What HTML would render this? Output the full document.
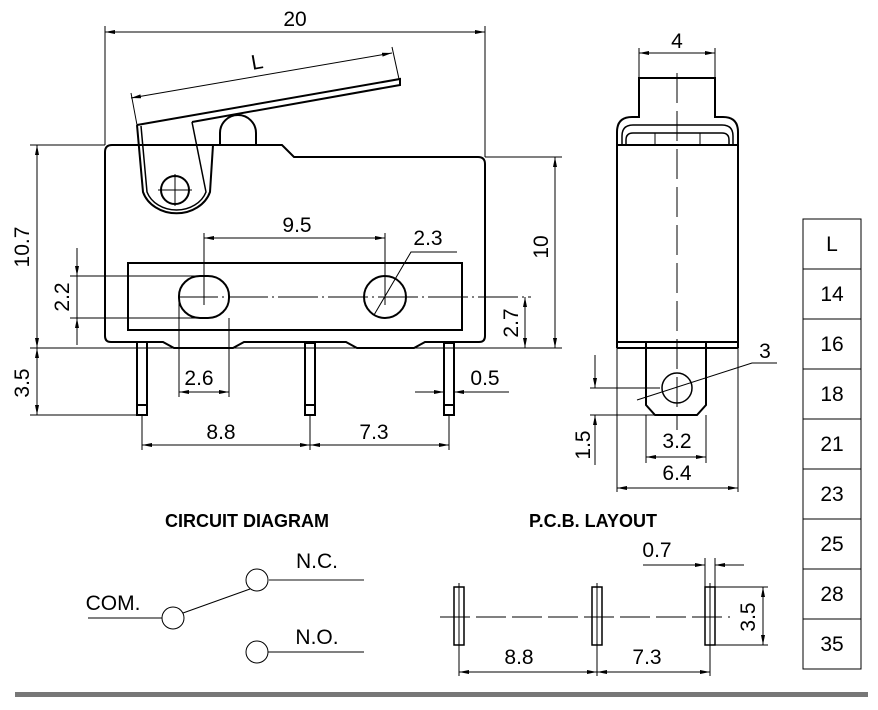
<!DOCTYPE html>
<html><head><meta charset="utf-8"><style>
html,body{margin:0;padding:0;background:#fff;}
svg{display:block;}
text{font-family:"Liberation Sans Narrow","Liberation Sans",sans-serif;font-size:21px;fill:#000;}
.t{font-weight:bold;font-size:18px;}
</style></head><body>
<svg width="878" height="710" viewBox="0 0 878 710" xmlns="http://www.w3.org/2000/svg">
<defs>
<marker id="a" viewBox="0 0 10 4" refX="10" refY="2" markerWidth="10" markerHeight="4" markerUnits="userSpaceOnUse" orient="auto-start-reverse"><path d="M0,0 L10,2 L0,4z" fill="#000"/></marker>
</defs>
<g fill="none" stroke="#000" stroke-width="1">
<!-- 20 dim -->
<line x1="105" y1="26" x2="105" y2="145"/><line x1="485" y1="26" x2="485" y2="157"/>
<line x1="105" y1="32" x2="485" y2="32" marker-start="url(#a)" marker-end="url(#a)"/>
<!-- body -->
<path stroke-width="2" d="M105,152 Q105,145 112,145 L282,145 L294,157 L478,157 Q485,157 485,164 L485,336 Q485,342 479,342 L425,342 L414,348 L357,348 L346,342 L244,342 L233,348 L174,348 L163,342 L111,342 Q105,342 105,336 Z"/>
<!-- lever -->
<path stroke-width="2" d="M137,125 L400,79 L400,85 L192,122"/>
<path stroke-width="2" d="M137,125 L143,192 A35,30 0 0 0 210,192 L213,145"/>
<path stroke-width="1.5" d="M141,126 L147,192 A31,26 0 0 0 206,192 L192,122"/>
<!-- roller -->
<path stroke-width="2" d="M220,145 L220,133 A18,18 0 0 1 256,133 L256,145"/>
<circle cx="175" cy="190" r="14" stroke-width="2"/>
<line x1="158" y1="190" x2="192" y2="190"/><line x1="175" y1="174" x2="175" y2="206"/>
<!-- L dim -->
<line x1="131" y1="93" x2="137" y2="125"/><line x1="392" y1="47" x2="399" y2="79"/>
<line x1="131" y1="98" x2="392" y2="53" marker-start="url(#a)" marker-end="url(#a)"/>
<!-- inner rect -->
<rect x="128" y="263" width="334" height="67" stroke-width="2"/>
<rect x="179" y="276" width="50" height="42" rx="21" ry="20" stroke-width="2"/>
<circle cx="385" cy="297" r="21" stroke-width="2"/>
<line x1="178" y1="297" x2="531" y2="297" stroke-dasharray="40,4,2,4"/>
<line x1="70" y1="276" x2="204" y2="276"/><line x1="70" y1="318" x2="204" y2="318"/>
<line x1="77" y1="248" x2="77" y2="276" marker-end="url(#a)"/><line x1="77" y1="345" x2="77" y2="318" marker-end="url(#a)"/>
<line x1="77" y1="276" x2="77" y2="318"/>
<!-- 9.5 -->
<line x1="204" y1="233" x2="204" y2="305"/><line x1="385" y1="233" x2="385" y2="305"/>
<line x1="204" y1="238" x2="385" y2="238" marker-start="url(#a)" marker-end="url(#a)"/>
<!-- 2.3 leader -->
<polyline points="374,315 411,252 457,252"/>
<!-- 10 / 2.7 / 10.7 / 3.5 -->
<line x1="485" y1="157" x2="562" y2="157"/><line x1="30" y1="348" x2="562" y2="348"/>
<line x1="555" y1="157" x2="555" y2="348" marker-start="url(#a)" marker-end="url(#a)"/>
<line x1="525" y1="297" x2="525" y2="348" marker-start="url(#a)" marker-end="url(#a)"/>
<line x1="30" y1="145" x2="105" y2="145"/>
<line x1="37" y1="145" x2="37" y2="348" marker-start="url(#a)" marker-end="url(#a)"/>
<line x1="30" y1="415" x2="142" y2="415"/>
<line x1="37" y1="348" x2="37" y2="415" marker-start="url(#a)" marker-end="url(#a)"/>
<!-- pins -->
<g stroke-width="2">
<rect x="137" y="342" width="10" height="73"/><line x1="137" y1="405" x2="147" y2="405"/>
<rect x="305" y="343" width="10" height="72"/><line x1="305" y1="405" x2="315" y2="405"/>
<rect x="444" y="343" width="10" height="72"/><line x1="444" y1="405" x2="454" y2="405"/>
</g>
<!-- 2.6 -->
<line x1="179" y1="297" x2="179" y2="397"/><line x1="229" y1="318" x2="229" y2="397"/>
<line x1="179" y1="392" x2="229" y2="392" marker-start="url(#a)" marker-end="url(#a)"/>
<!-- 0.5 -->
<line x1="415" y1="392" x2="444" y2="392" marker-end="url(#a)"/><line x1="509" y1="392" x2="454" y2="392" marker-end="url(#a)"/>
<!-- 8.8 7.3 -->
<line x1="142" y1="415" x2="142" y2="450"/><line x1="310" y1="415" x2="310" y2="450"/><line x1="449" y1="415" x2="449" y2="450"/>
<line x1="142" y1="445" x2="310" y2="445" marker-start="url(#a)" marker-end="url(#a)"/>
<line x1="310" y1="445" x2="449" y2="445" marker-start="url(#a)" marker-end="url(#a)"/>

<!-- side view -->
<line x1="639" y1="48" x2="639" y2="78"/><line x1="715" y1="48" x2="715" y2="78"/>
<line x1="639" y1="53" x2="715" y2="53" marker-start="url(#a)" marker-end="url(#a)"/>
<path stroke-width="2" d="M617,342 L617,132 Q617,117 632,117 L639,117 L639,78 L715,78 L715,117 L723,117 Q738,117 738,132 L738,342 Z"/>
<path stroke-width="1.5" d="M622,145 L622,136 Q622,125 633,125 L722,125 Q733,125 733,136 L733,145"/>
<path stroke-width="1.5" d="M626,145 L626,140 Q626,133 633,133 L722,133 Q729,133 729,140 L729,145"/>
<line x1="655" y1="133" x2="655" y2="145"/><line x1="700" y1="133" x2="700" y2="145"/>
<line x1="617" y1="145" x2="738" y2="145" stroke-width="2"/>
<line x1="617" y1="348" x2="738" y2="348" stroke-width="2"/>
<line x1="617" y1="342" x2="617" y2="348" stroke-width="2"/><line x1="738" y1="342" x2="738" y2="348" stroke-width="2"/>
<path stroke-width="2" d="M646,342 L646,405 L655,415 L697,415 L706,405 L706,342"/>
<circle cx="677" cy="388" r="15" stroke-width="1.5"/>
<line x1="677" y1="73" x2="677" y2="430" stroke-dasharray="30,8"/>
<polyline points="637,400 752,363 777,363"/>
<line x1="590" y1="388" x2="660" y2="388"/><line x1="590" y1="415" x2="655" y2="415"/>
<line x1="595" y1="355" x2="595" y2="388" marker-end="url(#a)"/><line x1="595" y1="465" x2="595" y2="415" marker-end="url(#a)"/>
<line x1="646" y1="415" x2="646" y2="463"/><line x1="706" y1="415" x2="706" y2="463"/>
<line x1="646" y1="457" x2="706" y2="457" marker-start="url(#a)" marker-end="url(#a)"/>
<line x1="617" y1="348" x2="617" y2="492"/><line x1="738" y1="348" x2="738" y2="492"/>
<line x1="617" y1="488" x2="738" y2="488" marker-start="url(#a)" marker-end="url(#a)"/>

<!-- table -->
<rect x="803" y="219" width="58" height="450"/>
<line x1="803" y1="269" x2="861" y2="269"/><line x1="803" y1="319" x2="861" y2="319"/>
<line x1="803" y1="369" x2="861" y2="369"/><line x1="803" y1="419" x2="861" y2="419"/>
<line x1="803" y1="469" x2="861" y2="469"/><line x1="803" y1="519" x2="861" y2="519"/>
<line x1="803" y1="569" x2="861" y2="569"/><line x1="803" y1="619" x2="861" y2="619"/>

<!-- circuit -->
<line x1="88" y1="618" x2="162" y2="618"/>
<ellipse cx="173" cy="618" rx="11" ry="11"/>
<line x1="183" y1="613" x2="250" y2="589"/>
<ellipse cx="257" cy="580" rx="11" ry="11"/>
<line x1="268" y1="580" x2="364" y2="580" stroke="#888" stroke-width="2"/>
<ellipse cx="257" cy="652" rx="11" ry="11"/>
<line x1="268" y1="652" x2="364" y2="652"/>

<!-- pcb -->
<rect x="454" y="587" width="10" height="58" stroke-width="1.5"/>
<rect x="592" y="587" width="10" height="58" stroke-width="1.5"/>
<rect x="705" y="587" width="10" height="58" stroke-width="1.5"/>
<line x1="440" y1="617" x2="730" y2="617" stroke-dasharray="30,6"/>
<line x1="459" y1="583" x2="459" y2="650"/><line x1="597" y1="583" x2="597" y2="650"/><line x1="710" y1="583" x2="710" y2="650"/>
<line x1="715" y1="587" x2="768" y2="587"/><line x1="715" y1="645" x2="768" y2="645"/>
<line x1="763" y1="587" x2="763" y2="645" marker-start="url(#a)" marker-end="url(#a)"/>
<line x1="705" y1="558" x2="705" y2="587"/><line x1="715" y1="558" x2="715" y2="587"/>
<line x1="643" y1="565" x2="705" y2="565" marker-end="url(#a)"/><line x1="744" y1="565" x2="715" y2="565" marker-end="url(#a)"/>
<line x1="459" y1="645" x2="459" y2="676"/><line x1="597" y1="645" x2="597" y2="676"/><line x1="710" y1="645" x2="710" y2="676"/>
<line x1="459" y1="672" x2="597" y2="672" marker-start="url(#a)" marker-end="url(#a)"/>
<line x1="597" y1="672" x2="710" y2="672" marker-start="url(#a)" marker-end="url(#a)"/>
</g>
<rect x="15" y="692" width="853" height="5" fill="#777"/>

<g text-anchor="middle">
<text x="295" y="26">20</text>
<text x="257" y="69" transform="rotate(-10 257 62)">L</text>
<text x="297" y="232">9.5</text>
<text x="428" y="245">2.3</text>
<text x="199" y="385">2.6</text>
<text x="485" y="385">0.5</text>
<text x="221" y="439">8.8</text>
<text x="374" y="439">7.3</text>
<text transform="translate(29,247) rotate(-90)">10.7</text>
<text transform="translate(69,297) rotate(-90)">2.2</text>
<text transform="translate(29,383) rotate(-90)">3.5</text>
<text transform="translate(548,247) rotate(-90)">10</text>
<text transform="translate(518,323) rotate(-90)">2.7</text>
<text x="677" y="48">4</text>
<text x="765" y="358">3</text>
<text x="677" y="448">3.2</text>
<text x="677" y="480">6.4</text>
<text transform="translate(590,445) rotate(-90)">1.5</text>
<text x="832" y="251">L</text>
<text x="832" y="301">14</text>
<text x="832" y="351">16</text>
<text x="832" y="401">18</text>
<text x="832" y="451">21</text>
<text x="832" y="501">23</text>
<text x="832" y="551">25</text>
<text x="832" y="601">28</text>
<text x="832" y="651">35</text>
<text class="t" x="247" y="527">CIRCUIT DIAGRAM</text>
<text class="t" x="593" y="527">P.C.B. LAYOUT</text>
<text x="113" y="610">COM.</text>
<text x="317" y="568">N.C.</text>
<text x="317" y="644">N.O.</text>
<text x="657" y="557">0.7</text>
<text x="519" y="664">8.8</text>
<text x="647" y="664">7.3</text>
<text transform="translate(755,617) rotate(-90)">3.5</text>
</g>
</svg>
</body></html>
